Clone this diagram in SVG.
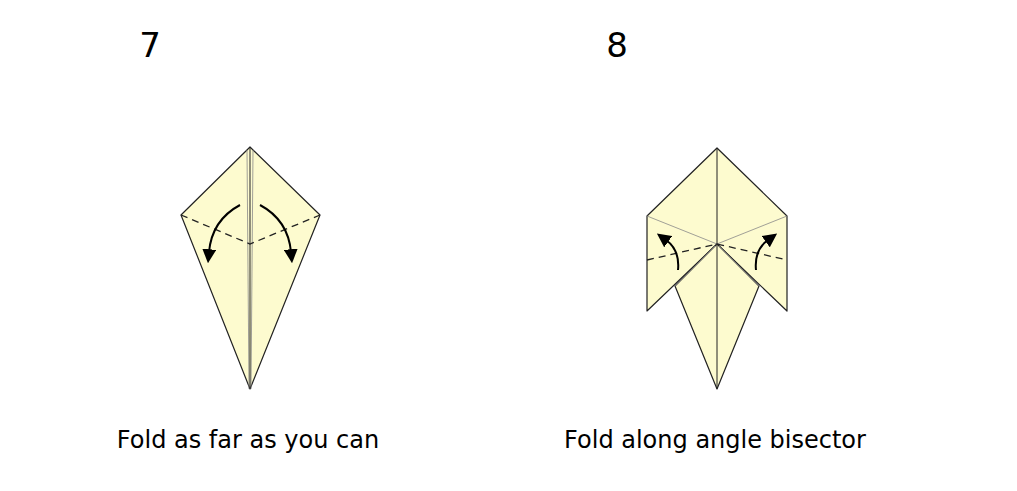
<svg xmlns="http://www.w3.org/2000/svg" width="1017" height="491" viewBox="0 0 1017 491">
<style>
.p{fill:#fdfbcf;stroke:#222;stroke-width:1.2;stroke-linejoin:round}
.t{stroke:#888;stroke-width:0.8;fill:none}
.d{stroke:#222;stroke-width:1.3;stroke-dasharray:7,5;fill:none}
.a{stroke:#000;stroke-width:2;fill:none;marker-end:url(#ah)}
text{font-family:"DejaVu Sans",sans-serif;fill:#000}
</style>
<defs><marker id="ah" markerWidth="8" markerHeight="8" refX="4" refY="4" orient="auto" markerUnits="userSpaceOnUse" viewBox="0 0 8 8"><path d="M0,0L8,4L0,8z" fill="#000"/></marker>
<marker id="ah2" viewBox="0 0 10 10" refX="2" refY="5" markerWidth="14" markerHeight="14" markerUnits="userSpaceOnUse" orient="auto"><path d="M0,0L10,5L0,10z" fill="#000"/></marker></defs>
<rect width="1017" height="491" fill="#fff"/>
<g id="step7">
<text x="150" y="57" font-size="34" text-anchor="middle">7</text>
<path class="p" d="M250,147L181,215L250,389L320,215Z"/>
<path class="t" d="M247,150L249,389M253,150L251,389"/>
<path d="M250,147L250,389" stroke="#222" stroke-width="1"/>
<path class="d" d="M181,215L250,244L320,215"/>
<path d="M240,205Q212,220 209,252" stroke="#000" stroke-width="2" fill="none" marker-end="url(#ah2)"/>
<path d="M260,205Q288,220 291,252" stroke="#000" stroke-width="2" fill="none" marker-end="url(#ah2)"/>
<text x="248" y="448" font-size="24" text-anchor="middle">Fold as far as you can</text>
</g>
<g id="step8">
<text x="617" y="57" font-size="34" text-anchor="middle">8</text>
<path class="p" d="M717,148L647,216L647,311L717,244L787,311L787,216Z"/>
<path class="p" d="M717,244L675,286L717,389L759,286Z"/>
<path class="t" d="M647,216L717,244L787,216"/>
<path d="M717,148L717,389" stroke="#222" stroke-width="1"/>
<path class="t" d="M715,246L675,286M719,246L759,286"/>
<path class="d" d="M647,260L717,244L787,260"/>
<path d="M678,270Q680,250 666,240" stroke="#000" stroke-width="2" fill="none" marker-end="url(#ah2)"/>
<path d="M756,270Q754,250 768,240" stroke="#000" stroke-width="2" fill="none" marker-end="url(#ah2)"/>
<text x="715" y="448" font-size="24" text-anchor="middle">Fold along angle bisector</text>
</g>
</svg>
